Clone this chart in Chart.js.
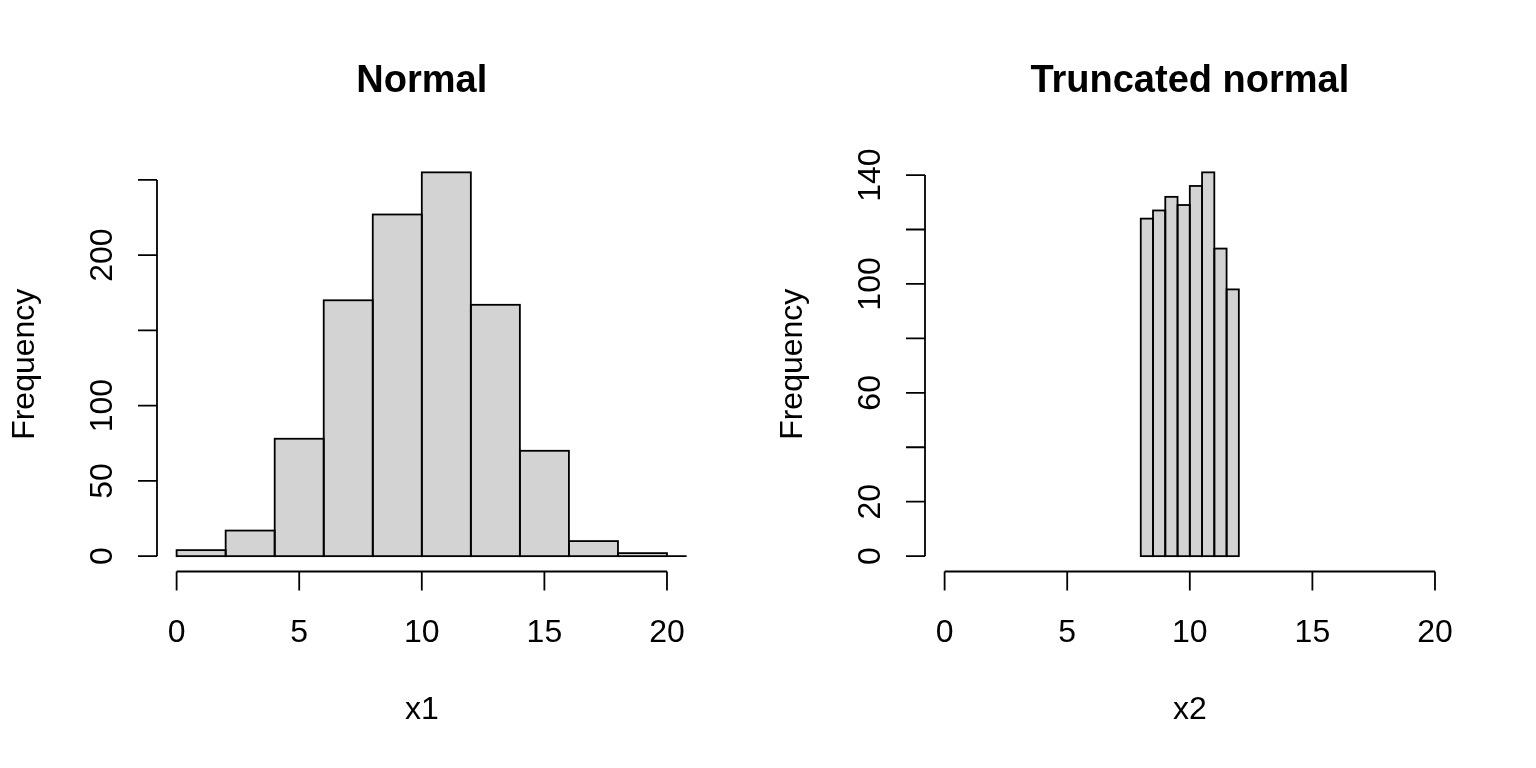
<!DOCTYPE html>
<html>
<head>
<meta charset="utf-8">
<title>Normal vs truncated normal</title>
<script src="https://cdn.jsdelivr.net/npm/chart.js@4.4.1/dist/chart.umd.min.js"></script>
<style>
  body { margin: 0; background: #fff; }
  .panel { position: absolute; top: 0; width: 768px; height: 768px; }
</style>
</head>
<body>
<div class="panel" style="left:0"><canvas id="normalChart" width="768" height="768"></canvas></div>
<div class="panel" style="left:768px"><canvas id="truncChart" width="768" height="768"></canvas></div>
<script>
// histogram bins (edges) and counts
const normalBreaks = [0, 2, 4, 6, 8, 10, 12, 14, 16, 18, 20, 22];
const normalCounts = [4, 17, 78, 170, 227, 255, 167, 70, 10, 2, 0];

const truncBreaks = [8, 8.5, 9, 9.5, 10, 10.5, 11, 11.5, 12];
const truncCounts = [124, 127, 132, 129, 136, 141, 113, 98];

// axis ticks and the labels R actually printed (some get dropped for overlap)
const xTicks = [0, 5, 10, 15, 20];
const xLimits = [0, 20];
const normalYTicks = [0, 50, 100, 150, 200, 250];
const normalYLabels = ['0', '50', '100', '', '200', ''];
const truncYTicks = [0, 20, 40, 60, 80, 100, 120, 140];
const truncYLabels = ['0', '20', '', '60', '', '100', '', '140'];

const FONT = '"Liberation Sans", Arial, sans-serif';
const LINE = 1.8;

// R-style base graphics: bar outlines, axes, titles
const rStyle = {
  id: 'rStyle',
  afterDatasetsDraw(chart) {
    const ctx = chart.ctx, a = chart.chartArea;
    ctx.save();
    ctx.beginPath();
    ctx.rect(a.left, a.top, a.right - a.left, a.bottom - a.top);
    ctx.clip();
    ctx.strokeStyle = '#000';
    ctx.lineWidth = LINE;
    chart.getDatasetMeta(0).data.forEach(bar => {
      ctx.strokeRect(bar.x - bar.width / 2, bar.y, bar.width, bar.base - bar.y);
    });
    ctx.restore();
  },
  afterDraw(chart) {
    const o = chart.options.plugins.rStyle;
    const ctx = chart.ctx, a = chart.chartArea;
    const xs = chart.scales.x, ys = chart.scales.y;
    const tick = 19;
    ctx.save();
    ctx.strokeStyle = '#000';
    ctx.fillStyle = '#000';
    ctx.lineWidth = LINE;

    // x axis
    const x0 = xs.getPixelForValue(xTicks[0]);
    const x1 = xs.getPixelForValue(xTicks[xTicks.length - 1]);
    ctx.beginPath();
    ctx.moveTo(x0, a.bottom);
    ctx.lineTo(x1, a.bottom);
    xTicks.forEach(v => {
      const px = xs.getPixelForValue(v);
      ctx.moveTo(px, a.bottom);
      ctx.lineTo(px, a.bottom + tick);
    });
    ctx.stroke();
    ctx.font = '32px ' + FONT;
    ctx.textAlign = 'center';
    ctx.textBaseline = 'alphabetic';
    xTicks.forEach(v => ctx.fillText(String(v), xs.getPixelForValue(v), a.bottom + 70));

    // y axis
    const y0 = ys.getPixelForValue(o.yTicks[0]);
    const y1 = ys.getPixelForValue(o.yTicks[o.yTicks.length - 1]);
    ctx.beginPath();
    ctx.moveTo(a.left, y0);
    ctx.lineTo(a.left, y1);
    o.yTicks.forEach(v => {
      const py = ys.getPixelForValue(v);
      ctx.moveTo(a.left, py);
      ctx.lineTo(a.left - tick, py);
    });
    ctx.stroke();
    o.yTicks.forEach((v, i) => {
      if (!o.yLabels[i]) return;
      ctx.save();
      ctx.translate(a.left - 45, ys.getPixelForValue(v));
      ctx.rotate(-Math.PI / 2);
      ctx.fillText(o.yLabels[i], 0, 0);
      ctx.restore();
    });

    // axis titles
    const cx = (a.left + a.right) / 2;
    ctx.fillText(o.xTitle, cx, a.bottom + 147);
    ctx.save();
    ctx.translate(a.left - 123, (a.top + a.bottom) / 2);
    ctx.rotate(-Math.PI / 2);
    ctx.fillText('Frequency', 0, 0);
    ctx.restore();

    // main title
    ctx.font = 'bold 38px ' + FONT;
    ctx.fillText(o.title, cx, 92);
    ctx.restore();
  }
};

function histChart(id, title, xTitle, breaks, counts, yTicks, yLabels) {
  const points = counts.map((c, i) => ({ x: (breaks[i] + breaks[i + 1]) / 2, y: c }));
  const top = Math.max(...counts);
  const pad = (xLimits[1] - xLimits[0]) * 0.04;
  return new Chart(document.getElementById(id), {
    type: 'bar',
    data: {
      datasets: [{
        data: points,
        backgroundColor: '#D3D3D3',
        borderWidth: 0,
        barPercentage: 1,
        categoryPercentage: 1
      }]
    },
    options: {
      responsive: false,
      animation: false,
      events: [],
      layout: { padding: { left: 157, right: 81.4, top: 157, bottom: 196.5 } },
      scales: {
        x: {
          type: 'linear',
          display: false,
          offset: false,
          min: xLimits[0] - pad,
          max: xLimits[1] + pad,
          afterBuildTicks: s => { s.ticks = xTicks.map(v => ({ value: v })); }
        },
        y: {
          display: false,
          min: -0.04 * top,
          max: 1.04 * top,
          afterBuildTicks: s => { s.ticks = yTicks.map(v => ({ value: v })); }
        }
      },
      plugins: {
        legend: { display: false },
        tooltip: { enabled: false },
        rStyle: { title, xTitle, yTicks, yLabels }
      }
    },
    plugins: [rStyle]
  });
}

histChart('normalChart', 'Normal', 'x1', normalBreaks, normalCounts, normalYTicks, normalYLabels);
histChart('truncChart', 'Truncated normal', 'x2', truncBreaks, truncCounts, truncYTicks, truncYLabels);
</script>
</body>
</html>
